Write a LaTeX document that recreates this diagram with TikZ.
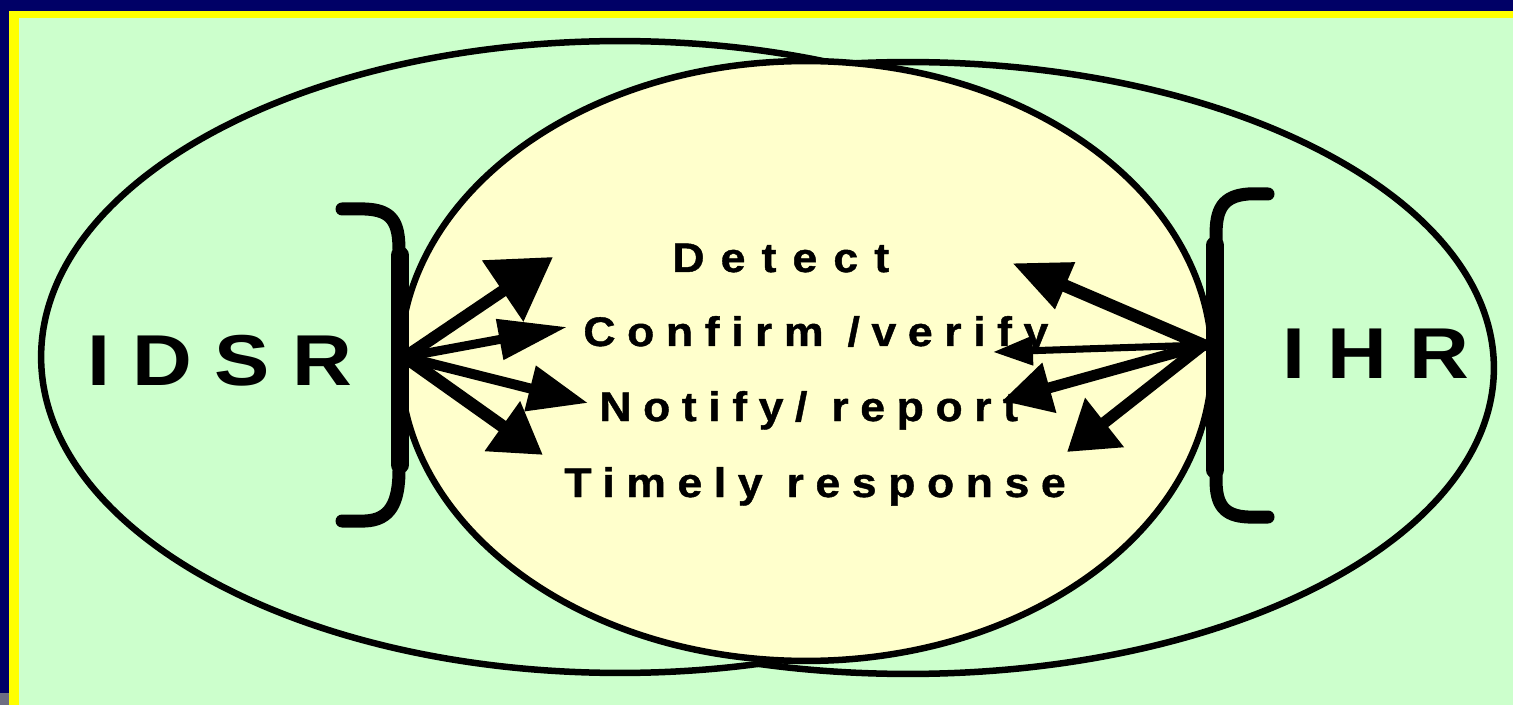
\documentclass[tikz,border=0pt]{standalone}
\usepackage{fontspec}
\setmainfont{Liberation Sans}
\newfontfamily\bigfont[LetterSpace=31,FakeStretch=1.15]{Liberation Sans}
\newfontfamily\stepfont[LetterSpace=28,FakeStretch=1.08,FakeBold=1]{Liberation Sans}
\newfontfamily\detectfont[LetterSpace=39,FakeStretch=1.08,FakeBold=1]{Liberation Sans}
\usetikzlibrary{%
    arrows.meta,%
    shapes.geometric
    }
\definecolor{mynavy}{RGB}{0,0,102}
\definecolor{myyellow}{RGB}{255,255,0}
\definecolor{mymint}{RGB}{204,255,204}
\definecolor{mycream}{RGB}{255,255,204}
\definecolor{mygrey}{RGB}{110,110,130}
\tikzset{
  oval/.style={
    ellipse,
    draw=black,
    line width=3.7pt,
    inner sep=0pt,
  },
  ovalgreen/.style={
    oval,
    fill=mymint,
  },
  ovalcream/.style={
    oval,
    fill=mycream,
  },
  brace/.style={
    line width=7.4pt,
    line cap=round,
    line join=round,
  },
  bigword/.style={
    anchor=base west,
    inner sep=0pt,
    font=\bigfont\bfseries\fontsize{41}{48}\selectfont,
  },
  stepword/.style={
    anchor=base west,
    inner sep=0pt,
    font=\stepfont\bfseries\fontsize{23.5}{28}\selectfont,
  },
  detectword/.style={
    stepword,
    font=\detectfont\bfseries\fontsize{23.5}{28}\selectfont,
  },
  pointer/.style={
    line cap=round,
    line join=round,
  },
}

\begin{document}
\begin{tikzpicture}[x=0.02cm,y=-0.02cm]
\useasboundingbox (0,0) rectangle (1513,705);

% frame
\fill[mynavy] (0,0) rectangle (1513,705);
\fill[myyellow] (9,11) rectangle (1513,705);
\fill[mymint] (19,18) rectangle (1513,705);
\fill[mygrey] (0,693) rectangle (9,705);

% the three ovals
\node[ovalgreen, minimum width=23.44cm, minimum height=12.24cm] 
  (ihroval) at (908,368) 
  {};
\node[ovalgreen, minimum width=23.16cm, minimum height=12.64cm] 
  (idsroval) at (620,357) 
  {};
\node[ovalcream, minimum width=16.24cm, minimum height=12cm] 
  (coreoval) at (806,361) 
  {};

% brackets
\draw[brace] (342,209) -- (365,209) 
  .. controls (392,210) and (399,222) .. (399,250) -- (399,470)
  .. controls (399,503) and (390,520) .. (365,521) -- (342,521);
\draw[brace, line width=10pt] (400,255) -- (400,465);
\draw[brace] (1268,194) -- (1248,194) 
  .. controls (1222,196) and (1216,210) .. (1216,235) -- (1216,480)
  .. controls (1216,505) and (1224,516) .. (1248,517) -- (1268,517);
\draw[brace, line width=10pt] (1215,245) -- (1215,470);

% labels
\node[bigword] 
  (idsr) at (87,386) 
  {IDSR};
\node[bigword] 
  (ihr) at (1282,378) 
  {IHR};
\node[detectword] 
  (detect) at (672,272) 
  {Detect};
\node[stepword] 
  (confirm) at (583,346) 
  {Confirm /verify};
\node[stepword] 
  (notify) at (599,421) 
  {Notify/ report};
\node[stepword] 
  (timely) at (564,497) 
  {Timely response};

% arrow ends
\coordinate (idsrhub) at (405,357);
\coordinate (ihrhub) at (1203,345);
\coordinate (ltipa) at (553,257);
\coordinate (ltipb) at (567,327);
\coordinate (ltipc) at (588,403);
\coordinate (ltipd) at (543,455);
\coordinate (rtipa) at (1012,263);
\coordinate (rtipb) at (993,352);
\coordinate (rtipc) at (1002,401);
\coordinate (rtipd) at (1067,452);

\begin{scope}[pointer]
\draw[line width=6.8pt, -{Triangle[length=34.6pt,width=40.3pt]}]
  (idsrhub) -- (ltipa);
\draw[line width=5.1pt, -{Triangle[length=39pt,width=22.4pt]}]
  (idsrhub) -- (ltipb);
\draw[line width=5.7pt, -{Triangle[length=34pt,width=25.3pt]}]
  (idsrhub) -- (ltipc);
\draw[line width=7.2pt, -{Triangle[length=28.4pt,width=32.9pt]}]
  (idsrhub) -- (ltipd);
\draw[line width=7.2pt, -{Triangle[length=32.9pt,width=27pt]}]
  (ihrhub) -- (rtipa);
\draw[line width=4pt, -{Triangle[length=22.7pt,width=15.9pt]}]
  (ihrhub) -- (rtipb);
\draw[line width=6.2pt, -{Triangle[length=28pt,width=28pt]}]
  (ihrhub) -- (rtipc);
\draw[line width=6.6pt, -{Triangle[length=27.2pt,width=34pt]}]
  (ihrhub) -- (rtipd);
\end{scope}
\end{tikzpicture}
\end{document}
